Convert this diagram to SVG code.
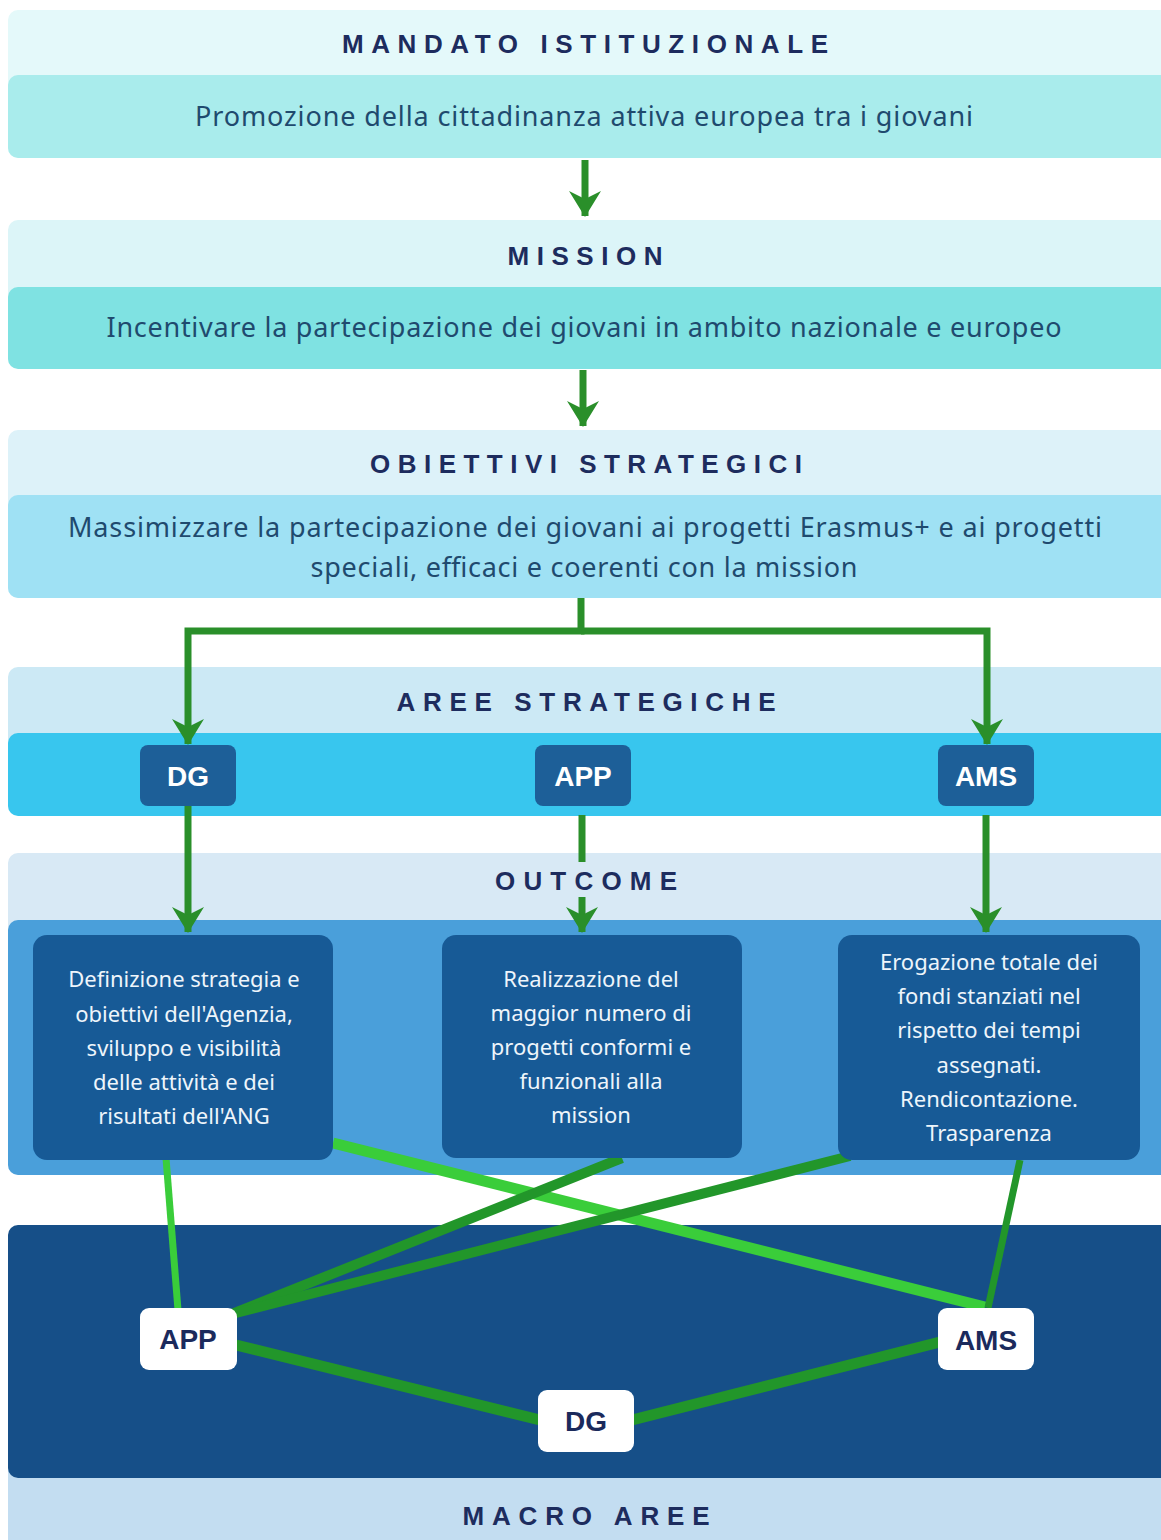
<svg xmlns="http://www.w3.org/2000/svg" width="1161" height="1540" viewBox="0 0 1161 1540">
<defs>
<style>
.title{font-family:"Liberation Sans",Arial,sans-serif;font-weight:bold;font-size:26px;fill:#1d2c5e;text-anchor:middle;}
.band{font-family:"Noto Sans","Liberation Sans",sans-serif;font-size:27px;fill:#1f4a6e;text-anchor:middle;}
.box{font-family:"Noto Sans","Liberation Sans",sans-serif;font-size:22px;fill:#eef5fb;text-anchor:middle;}
.lbl{font-family:"Liberation Sans",Arial,sans-serif;font-weight:bold;font-size:28px;text-anchor:middle;}
.arrow{stroke:#2a8f2a;stroke-width:7;fill:none;}
.lg{stroke:#3acd3a;fill:none;}
.dg{stroke:#22962a;fill:none;}
</style>
<marker id="ah" viewBox="0 0 26 32" refX="25" refY="16" markerWidth="26" markerHeight="32" markerUnits="userSpaceOnUse" orient="auto">
<path d="M0,0 L26,16 L0,32 L8,16 Z" fill="#2a8f2a"/>
</marker>
</defs>
<rect width="1161" height="1540" fill="#ffffff"/>

<g id="mandato">
<rect x="8" y="10" width="1165" height="148" rx="10" fill="#e4f9fa"/>
<rect x="8" y="75" width="1165" height="83" rx="10" fill="#a9ecec"/>
<text class="title" x="585" y="53" textLength="486" lengthAdjust="spacing">MANDATO ISTITUZIONALE</text>
<text class="band" x="584" y="126" textLength="778" lengthAdjust="spacing">Promozione della cittadinanza attiva europea tra i giovani</text>
</g>

<g id="mission">
<rect x="8" y="220" width="1165" height="148" rx="10" fill="#dcf5f8"/>
<rect x="8" y="287" width="1165" height="82" rx="10" fill="#7fe2e2"/>
<text class="title" x="585" y="265" textLength="155" lengthAdjust="spacing">MISSION</text>
<text class="band" x="584" y="337" textLength="955" lengthAdjust="spacing">Incentivare la partecipazione dei giovani in ambito nazionale e europeo</text>
</g>

<g id="obiettivi">
<rect x="8" y="430" width="1165" height="168" rx="10" fill="#ddf2f9"/>
<rect x="8" y="495" width="1165" height="103" rx="10" fill="#9fe1f4"/>
<text class="title" x="586" y="473" textLength="432" lengthAdjust="spacing">OBIETTIVI STRATEGICI</text>
<text class="band" x="585" y="537" textLength="1034" lengthAdjust="spacing">Massimizzare la partecipazione dei giovani ai progetti Erasmus+ e ai progetti</text>
<text class="band" x="584" y="577" textLength="547" lengthAdjust="spacing">speciali, efficaci e coerenti con la mission</text>
</g>

<g id="aree">
<rect x="8" y="667" width="1165" height="148" rx="10" fill="#cce9f5"/>
<rect x="8" y="733" width="1165" height="83" rx="10" fill="#38c6ee"/>
<text class="title" x="586" y="711" textLength="379" lengthAdjust="spacing">AREE STRATEGICHE</text>
</g>

<g id="outcome">
<rect x="8" y="853" width="1165" height="322" rx="10" fill="#d8e9f5"/>
<rect x="8" y="920" width="1165" height="255" rx="10" fill="#4a9fda"/>
<text class="title" x="586" y="890" textLength="182" lengthAdjust="spacing">OUTCOME</text>
</g>

<g id="macro">
<rect x="8" y="1420" width="1165" height="130" rx="10" fill="#c3ddf1"/>
<rect x="8" y="1225" width="1165" height="253" rx="10" fill="#164f88"/>
<text class="title" x="586" y="1525" textLength="247" lengthAdjust="spacing">MACRO AREE</text>
</g>

<g id="connectors">
<line class="arrow" x1="585" y1="160" x2="585" y2="216" marker-end="url(#ah)"/>
<line class="arrow" x1="583" y1="370" x2="583" y2="426" marker-end="url(#ah)"/>
<polyline class="arrow" points="581,598 581,631 188,631 188,744" marker-end="url(#ah)"/>
<polyline class="arrow" points="581,631 987,631 987,744" marker-end="url(#ah)"/>
<line class="arrow" x1="188" y1="806" x2="188" y2="932" marker-end="url(#ah)"/>
<line class="arrow" x1="582" y1="815" x2="582" y2="862"/>
<line class="arrow" x1="582" y1="897" x2="582" y2="932" marker-end="url(#ah)"/>
<line class="arrow" x1="986" y1="815" x2="986" y2="932" marker-end="url(#ah)"/>

<line class="lg" stroke-width="7" x1="166" y1="1158" x2="178" y2="1310"/>
<line class="lg" stroke-width="11" x1="333" y1="1143" x2="985" y2="1307"/>
<line class="dg" stroke-width="10" x1="622" y1="1158" x2="232" y2="1314"/>
<line class="dg" stroke-width="10" x1="850" y1="1156" x2="232" y2="1314"/>
<line class="dg" stroke-width="7" x1="1020" y1="1160" x2="988" y2="1308"/>
<line class="dg" stroke-width="11" x1="236" y1="1345" x2="540" y2="1420"/>
<line class="dg" stroke-width="11" x1="632" y1="1420" x2="940" y2="1342"/>
</g>

<g id="as-dg">
<rect x="140" y="745" width="96" height="61" rx="8" fill="#1d5f98"/>
<text class="lbl" x="188" y="786" fill="#ffffff">DG</text>
</g>
<g id="as-app">
<rect x="535" y="745" width="96" height="61" rx="8" fill="#1d5f98"/>
<text class="lbl" x="583" y="786" fill="#ffffff">APP</text>
</g>
<g id="as-ams">
<rect x="938" y="745" width="96" height="61" rx="8" fill="#1d5f98"/>
<text class="lbl" x="986" y="786" fill="#ffffff">AMS</text>
</g>

<g id="out-dg">
<rect x="33" y="935" width="300" height="225" rx="14" fill="#175a96"/>
<text class="box" x="184" y="987">Definizione strategia e</text>
<text class="box" x="184" y="1022">obiettivi dell'Agenzia,</text>
<text class="box" x="184" y="1056">sviluppo e visibilità</text>
<text class="box" x="184" y="1090">delle attività e dei</text>
<text class="box" x="184" y="1124">risultati dell'ANG</text>
</g>
<g id="out-app">
<rect x="442" y="935" width="300" height="223" rx="14" fill="#175a96"/>
<text class="box" x="591" y="987">Realizzazione del</text>
<text class="box" x="591" y="1021">maggior numero di</text>
<text class="box" x="591" y="1055">progetti conformi e</text>
<text class="box" x="591" y="1089">funzionali alla</text>
<text class="box" x="591" y="1123">mission</text>
</g>
<g id="out-ams">
<rect x="838" y="935" width="302" height="225" rx="14" fill="#175a96"/>
<text class="box" x="989" y="970">Erogazione totale dei</text>
<text class="box" x="989" y="1004">fondi stanziati nel</text>
<text class="box" x="989" y="1038">rispetto dei tempi</text>
<text class="box" x="989" y="1073">assegnati.</text>
<text class="box" x="989" y="1107">Rendicontazione.</text>
<text class="box" x="989" y="1141">Trasparenza</text>
</g>

<g id="ma-app">
<rect x="140" y="1308" width="97" height="62" rx="9" fill="#ffffff"/>
<text class="lbl" x="188" y="1349" fill="#1b2a5c">APP</text>
</g>
<g id="ma-ams">
<rect x="938" y="1308" width="96" height="62" rx="9" fill="#ffffff"/>
<text class="lbl" x="986" y="1350" fill="#1b2a5c">AMS</text>
</g>
<g id="ma-dg">
<rect x="538" y="1390" width="96" height="62" rx="9" fill="#ffffff"/>
<text class="lbl" x="586" y="1431" fill="#1b2a5c">DG</text>
</g>
</svg>
